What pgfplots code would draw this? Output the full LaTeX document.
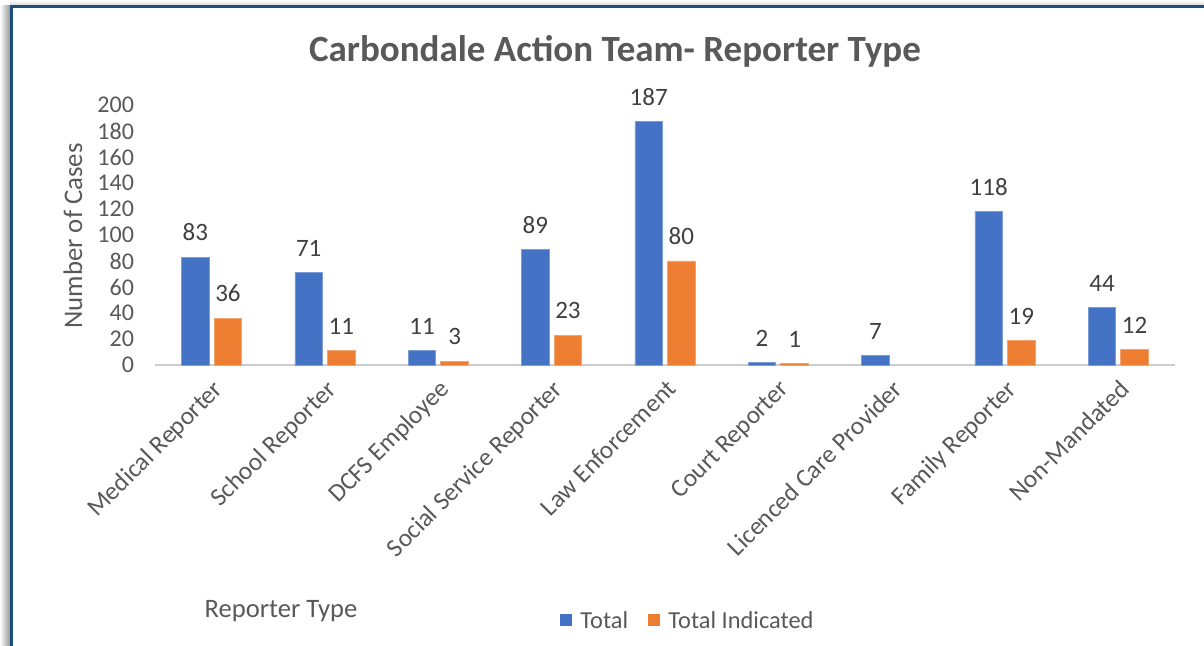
\documentclass[border=0pt]{standalone}
\usepackage{fontspec}
\setmainfont{Carlito}
\usepackage{pgfplots}
\pgfplotsset{compat=1.18}
\definecolor{barblue}{HTML}{4472C4}
\definecolor{barorange}{HTML}{ED7D31}
\definecolor{txtgray}{HTML}{595959}
\definecolor{lblgray}{HTML}{404040}
\definecolor{framblue}{HTML}{1F4E79}
\begin{document}
\begin{tikzpicture}
\useasboundingbox (0,0) rectangle (602pt,323pt);
\fill[white] (0,0) rectangle (602pt,323pt);
\shade[left color=white, right color=gray!85] (0,0) rectangle (5.2pt,320pt);
\shade[top color=white, bottom color=gray!35] (5pt,320pt) rectangle (602pt,323pt);
\draw[framblue, line width=1.4pt] (5.8pt,-1pt) -- (5.8pt,319.6pt) -- (603pt,319.6pt);
\begin{axis}[
  at={(77.5pt,140.5pt)}, anchor=south west,
  scale only axis, width=510pt, height=130pt,
  ybar=2.5pt, bar width=13.8pt,
  xmin=-0.5, xmax=8.5, ymin=0, ymax=200,
  ytick={0,20,...,200},
  xtick={0,...,8},
  xticklabels={Medical Reporter,School Reporter,DCFS Employee,Social Service Reporter,Law Enforcement,Court Reporter,Licenced Care Provider,Family Reporter,Non-Mandated},
  axis x line*=bottom, axis y line*=left,
  y axis line style={draw=none},
  x axis line style={draw=gray!40, line width=1pt},
  major tick length=0pt,
  /pgf/number format/assume math mode=true,
  tick label style={font=\fontsize{12}{14}\selectfont, text=txtgray},
  yticklabel style={xshift=-7pt},
  xticklabel style={font=\fontsize{12.7}{15}\selectfont, yshift=-5pt, xshift=0pt, rotate=45, anchor=north east, inner sep=1pt},
  nodes near coords,
  every node near coord/.append style={font=\fontsize{12.5}{15}\selectfont, text=lblgray, yshift=4.5pt},
  clip=false,
]
\addplot[fill=barblue, draw=barblue!70!white] coordinates {(0,83) (1,71) (2,11) (3,89) (4,187) (5,2) (6,7) (7,118) (8,44)};
\addplot[fill=barorange, draw=barorange!70!white] coordinates {(0,36) (1,11) (2,3) (3,23) (4,80) (5,1) (7,19) (8,12)};
\end{axis}
\node[font=\fontsize{18.5}{22}\selectfont\bfseries, text=txtgray] at (307.5pt,297.5pt) {Carbondale Action Team- Reporter Type};
\node[rotate=90, font=\fontsize{13.4}{16}\selectfont, text=txtgray] at (36.5pt,205pt) {Number of Cases};
\node[font=\fontsize{13.3}{16}\selectfont, text=txtgray] at (140.5pt,17.5pt) {Reporter Type};
\fill[barblue] (280pt,10pt) rectangle (286pt,16pt);
\node[anchor=west, font=\fontsize{12.2}{14}\selectfont, text=txtgray, inner sep=0pt] at (290pt,13pt) {Total};
\fill[barorange] (324pt,10pt) rectangle (330pt,16pt);
\node[anchor=west, font=\fontsize{12.2}{14}\selectfont, text=txtgray, inner sep=0pt] at (334pt,13pt) {Total Indicated};
\end{tikzpicture}
\end{document}
